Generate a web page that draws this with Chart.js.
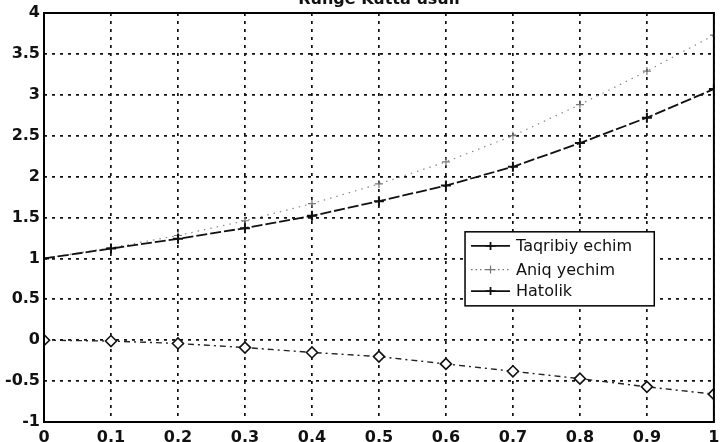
<!DOCTYPE html>
<html>
<head>
<meta charset="utf-8">
<script src="https://cdn.jsdelivr.net/npm/chart.js@4/dist/chart.umd.min.js"></script>
<style>
html,body{margin:0;padding:0;background:#fff;}
#wrap{width:721px;height:442px;position:relative;}
</style>
</head>
<body>
<div id="wrap"><canvas id="c" width="721" height="442"></canvas></div>
<script>
const titleText = "Runge Kutta usuli";
const xValues = [0, 0.1, 0.2, 0.3, 0.4, 0.5, 0.6, 0.7, 0.8, 0.9, 1];
const taqribiy = [1, 1.12, 1.24, 1.37, 1.52, 1.70, 1.89, 2.12, 2.41, 2.72, 3.07];
const aniq = [1, 1.13, 1.28, 1.46, 1.67, 1.91, 2.18, 2.50, 2.88, 3.29, 3.73];
const hatolik = [0, -0.01, -0.04, -0.09, -0.15, -0.20, -0.29, -0.38, -0.47, -0.57, -0.66];
const seriesNames = ["Taqribiy echim", "Aniq yechim", "Hatolik"];
const xTickLabels = ["0", "0.1", "0.2", "0.3", "0.4", "0.5", "0.6", "0.7", "0.8", "0.9", "1"];
const yTickLabels = ["-1", "-0.5", "0", "0.5", "1", "1.5", "2", "2.5", "3", "3.5", "4"];

function pts(ys){ return xValues.map((x,i)=>({x:x,y:ys[i]})); }

const tickFont = {family:"DejaVu Sans", size:16, weight:"bold"};

const boxPlugin = {
  id:'boxPlugin',
  afterDatasetsDraw(chart){
    const ctx = chart.ctx, a = chart.chartArea;
    ctx.save();
    ctx.setLineDash([]);
    ctx.strokeStyle = '#000';
    ctx.lineWidth = 2;
    ctx.strokeRect(a.left, a.top, a.right - a.left, a.bottom - a.top);
    // title, partially cut off at top
    ctx.fillStyle = '#111';
    ctx.font = 'bold 16px "DejaVu Sans"';
    ctx.textAlign = 'center';
    ctx.textBaseline = 'alphabetic';
    ctx.fillText(titleText, (a.left + a.right)/2, 4);

    // legend
    const W = a.right - a.left, H = a.bottom - a.top;
    const lx = a.left + W*0.6285, ly = a.top + H*0.535;
    const lw = W*0.2825, lh = H*0.181;
    ctx.fillStyle = '#fff';
    ctx.fillRect(lx, ly, lw, lh);
    ctx.lineWidth = 1.5;
    ctx.strokeStyle = '#000';
    ctx.strokeRect(lx, ly, lw, lh);
    const rows = [ly + lh*0.19, ly + lh*0.51, ly + lh*0.80];
    const sx1 = lx + 6, sx2 = lx + 45, mx = (sx1+sx2)/2;
    ctx.font = '16px "DejaVu Sans"';
    ctx.textAlign = 'left';
    ctx.textBaseline = 'middle';
    rows.forEach((ry,i)=>{
      ctx.save();
      if (i === 1) { ctx.setLineDash([1.5,3]); ctx.strokeStyle = '#777'; ctx.lineWidth = 1.2; }
      else { ctx.setLineDash([]); ctx.strokeStyle = '#111'; ctx.lineWidth = 1.8; }
      ctx.beginPath(); ctx.moveTo(sx1, ry); ctx.lineTo(sx2, ry); ctx.stroke();
      ctx.setLineDash([]);
      ctx.beginPath();
      ctx.moveTo(mx-5, ry); ctx.lineTo(mx+5, ry);
      ctx.moveTo(mx, ry-4); ctx.lineTo(mx, ry+4);
      ctx.stroke();
      ctx.restore();
      ctx.fillStyle = '#111';
      ctx.fillText(seriesNames[i], lx + 51, ry + 1);
    });
    ctx.restore();
  }
};

new Chart(document.getElementById('c'), {
  type:'line',
  data:{
    datasets:[
      {
        label: seriesNames[0],
        data: pts(taqribiy),
        borderColor:'#111', backgroundColor:'#111',
        borderWidth:1.8, borderDash:[11,3],
        pointStyle:'cross', pointRadius:5, pointBorderWidth:2,
        pointBorderColor:'#111', tension:0, order:1
      },
      {
        label: seriesNames[1],
        data: pts(aniq),
        borderColor:'#888', backgroundColor:'#888',
        borderWidth:1.2, borderDash:[1.5,5],
        pointStyle:'cross', pointRadius:4, pointBorderWidth:1.2,
        pointBorderColor:'#777', tension:0, order:2
      },
      {
        label: seriesNames[2],
        data: pts(hatolik),
        borderColor:'#222', backgroundColor:'#fff',
        borderWidth:1.4, borderDash:[6,4,2,4],
        pointStyle:'rectRot', pointRadius:5.5, pointBorderWidth:1.6,
        pointBorderColor:'#111', pointBackgroundColor:'#fff', tension:0, order:3
      }
    ]
  },
  options:{
    responsive:false,
    animation:false,
    layout:{padding:{top:13, right:4, left:0, bottom:0}},
    plugins:{legend:{display:false}, title:{display:false}, tooltip:{enabled:false}},
    scales:{
      x:{
        type:'linear', min:0, max:1,
        afterFit(s){ s.height = 20; s.paddingRight = 0; s.paddingLeft = 0; },
        afterBuildTicks(s){ s.ticks = xValues.map(v=>({value:v})); },
        ticks:{
          font:tickFont, color:'#111', padding:6, maxRotation:0, autoSkip:false,
          callback:(v,i)=>xTickLabels[i]
        },
        grid:{color:'#111', lineWidth:1.7, drawTicks:false, borderDash:[3,5]},
        border:{display:false, dash:[3,5]}
      },
      y:{
        type:'linear', min:-1, max:4,
        afterFit(s){ s.width = 44; s.paddingTop = 0; s.paddingBottom = 0; },
        afterBuildTicks(s){ s.ticks = yTickLabels.map(t=>({value:parseFloat(t)})); },
        ticks:{
          font:tickFont, color:'#111', padding:4,
          callback:(v,i)=>yTickLabels[i]
        },
        grid:{color:'#111', lineWidth:1.7, drawTicks:false, borderDash:[3,5]},
        border:{display:false, dash:[3,5]}
      }
    }
  },
  plugins:[boxPlugin]
});
</script>
</body>
</html>
